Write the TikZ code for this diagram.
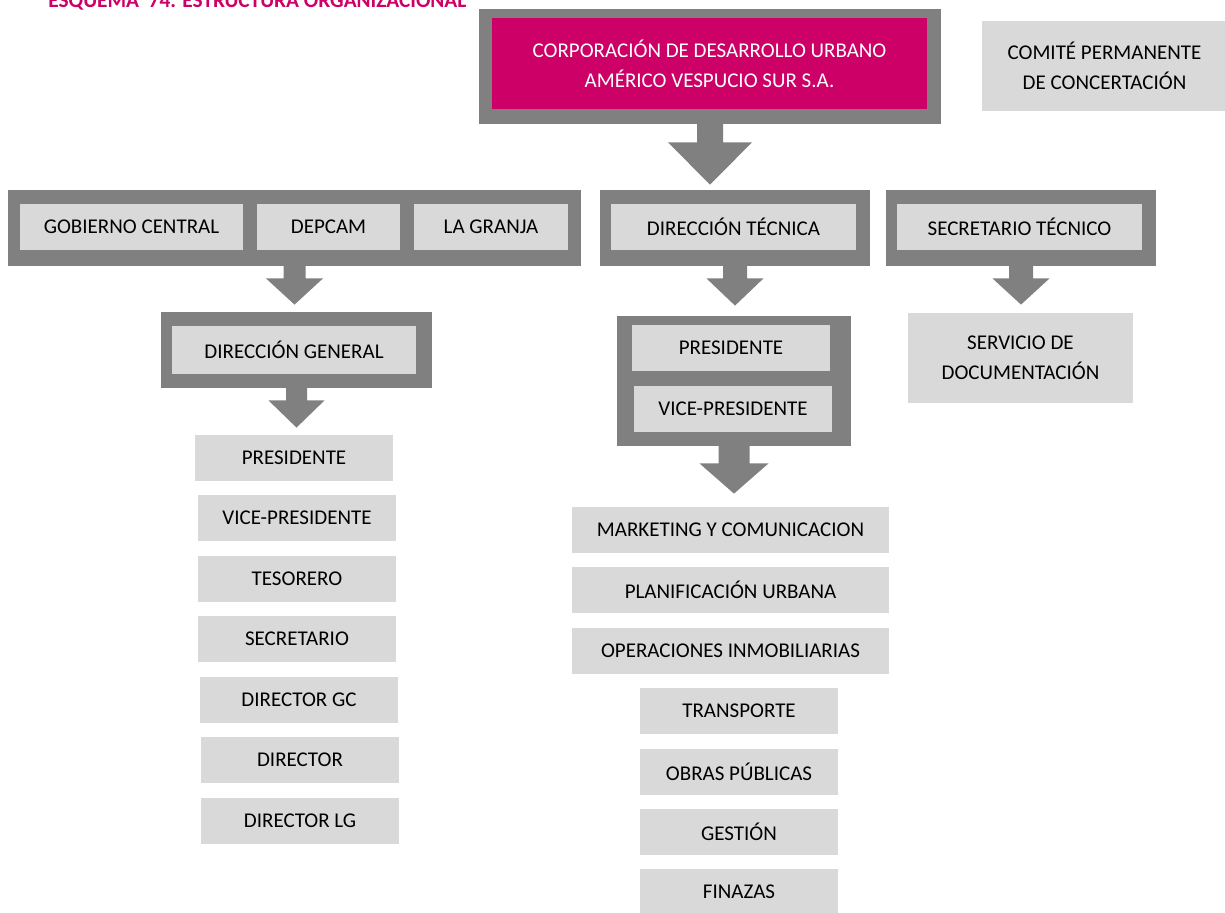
\documentclass[tikz,border=0pt]{standalone}
\usepackage{fontspec}
\setmainfont{Carlito}
\usetikzlibrary{calc}

\definecolor{framegray}{RGB}{128,128,128}
\definecolor{cellgray}{RGB}{217,217,217}
\definecolor{brand}{RGB}{204,0,102}

% \orgbox{style}{name}{x1}{y1}{x2}{y2}{text}: a box given by its corners (in px units)
\newcommand{\orgbox}[7]{%
  \node[#1, minimum width={(#5-#3)*0.5pt}, minimum height={(#6-#4)*0.5pt}]
    (#2) at ({(#3+#5)/2},{(#4+#6)/2}) {#7};}

% \blockarrow{from}{to}{stem half width}{head half width}{stem length}{gap}
\newcommand{\blockarrow}[6]{%
  \fill[framegray] let \p1=(#1.south), \p2=(#2.north) in
    (\x1-#3*0.5pt,\y1+1pt) -- (\x1+#3*0.5pt,\y1+1pt)
    -- (\x1+#3*0.5pt,\y1-#5*0.5pt) -- (\x1+#4*0.5pt,\y1-#5*0.5pt)
    -- (\x1,\y2+#6*0.5pt)
    -- (\x1-#4*0.5pt,\y1-#5*0.5pt) -- (\x1-#3*0.5pt,\y1-#5*0.5pt) -- cycle;}

\begin{document}
\begin{tikzpicture}[x=0.5pt,y=-0.5pt,
  frame/.style={fill=framegray, draw=none, inner sep=0pt},
  cell/.style={fill=cellgray, draw=none, inner sep=0pt, align=center,
    font=\fontsize{10.5}{15}\selectfont, text=black},
  headcell/.style={cell, fill=brand, text=white}]
\useasboundingbox (0,0) rectangle (1225,912);
\clip (0,0) rectangle (1225,912);

% title
\node[anchor=base west, inner sep=0pt, text=brand,
  font=\fontsize{10.65}{12}\selectfont\bfseries] (title) at (48,7)
  {ESQUEMA\ \ 74. ESTRUCTURA ORGANIZACIONAL};

% top level
\orgbox{frame}{topframe}{479}{9}{941}{124}{}
\orgbox{headcell}{corp}{492}{18}{927}{109}{CORPORACIÓN DE DESARROLLO URBANO\\AMÉRICO VESPUCIO SUR S.A.}
\orgbox{cell}{comite}{982}{21}{1227}{111}{COMITÉ PERMANENTE\\DE CONCERTACIÓN}

% second level
\orgbox{frame}{leftframe}{8}{190}{581}{266}{}
\orgbox{cell}{gob}{20}{204}{243}{250}{GOBIERNO CENTRAL}
\orgbox{cell}{depcam}{257}{204}{400}{250}{DEPCAM}
\orgbox{cell}{granja}{414}{204}{568}{250}{LA GRANJA}

\orgbox{frame}{dtframe}{600}{190}{870}{266}{}
\orgbox{cell}{dt}{611}{204}{856}{250}{DIRECCIÓN TÉCNICA}

\orgbox{frame}{stframe}{886}{190}{1156}{266}{}
\orgbox{cell}{st}{897}{204}{1142}{250}{SECRETARIO TÉCNICO}

% third level
\orgbox{frame}{dgframe}{161}{312}{432}{388}{}
\orgbox{cell}{dg}{172}{326}{416}{374}{DIRECCIÓN GENERAL}

\orgbox{frame}{pvframe}{617}{316}{851}{446}{}
\orgbox{cell}{presb}{632}{325}{830}{371}{PRESIDENTE}
\orgbox{cell}{viceb}{634}{386}{832}{432}{VICE-PRESIDENTE}

\orgbox{cell}{servicio}{908}{313}{1133}{403}{SERVICIO DE\\DOCUMENTACIÓN}

% general direction members
\orgbox{cell}{pres}{195}{435}{393}{481}{PRESIDENTE}
\orgbox{cell}{vice}{198}{495}{396}{541}{VICE-PRESIDENTE}
\orgbox{cell}{tesorero}{198}{556}{396}{602}{TESORERO}
\orgbox{cell}{secretario}{198}{616}{396}{662}{SECRETARIO}
\orgbox{cell}{dirgc}{200}{677}{398}{723}{DIRECTOR GC}
\orgbox{cell}{director}{201}{737}{399}{783}{DIRECTOR}
\orgbox{cell}{dirlg}{201}{798}{399}{844}{DIRECTOR LG}

% technical areas
\orgbox{cell}{marketing}{572}{507}{889}{553}{MARKETING Y COMUNICACION}
\orgbox{cell}{planif}{572}{567}{889}{613}{PLANIFICACIÓN URBANA}
\orgbox{cell}{operac}{572}{628}{889}{674}{OPERACIONES INMOBILIARIAS}
\orgbox{cell}{transporte}{640}{688}{838}{734}{TRANSPORTE}
\orgbox{cell}{obras}{640}{749}{838}{795}{OBRAS PÚBLICAS}
\orgbox{cell}{gestion}{640}{809}{838}{855}{GESTIÓN}
\orgbox{cell}{finazas}{640}{869}{838}{915}{FINAZAS}

% block arrows
\blockarrow{topframe}{dtframe}{13}{42}{18}{5}
\blockarrow{leftframe}{dgframe}{11}{28.5}{12}{7}
\blockarrow{dtframe}{pvframe}{12}{28.5}{12}{10}
\blockarrow{stframe}{servicio}{12}{28.5}{12}{8}
\blockarrow{dgframe}{pres}{10.5}{28}{12}{7}
\blockarrow{pvframe}{marketing}{15.5}{34.5}{17}{13}
\end{tikzpicture}
\end{document}
